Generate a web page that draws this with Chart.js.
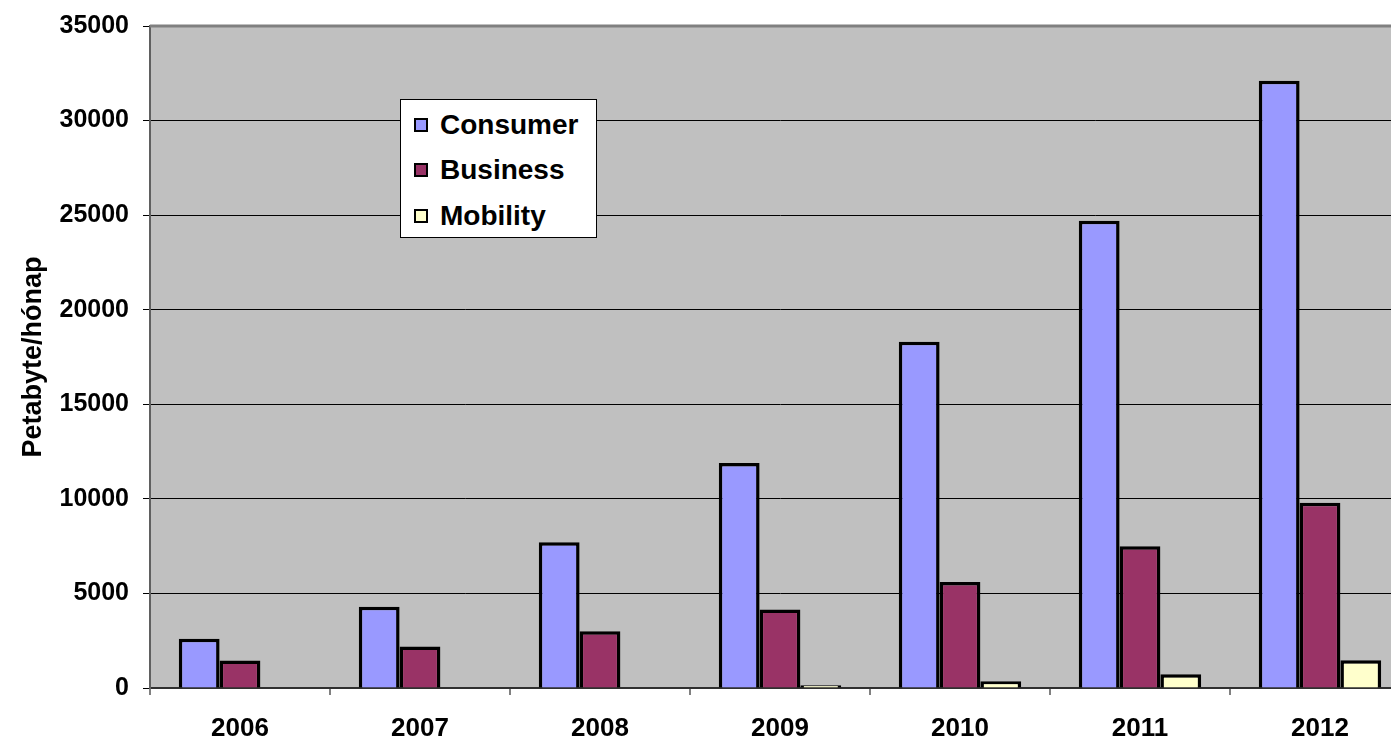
<!DOCTYPE html>
<html lang="hu">
<head>
<meta charset="utf-8">
<title>Petabyte/hónap</title>
<script src="https://cdn.jsdelivr.net/npm/chart.js@4.4.1/dist/chart.umd.min.js"></script>
<style>
    html, body {
        margin: 0;
        padding: 0;
        background: #fff;
        overflow: hidden;
    }
    #wrap {
        position: relative;
        width: 1420px;
        height: 742px;
    }
    #trafficChart {
        position: absolute;
        left: 0;
        top: 0;
    }
    #legend {
        position: absolute;
        left: 400px;
        top: 99px;
        width: 195px;
        height: 137px;
        background: #fff;
        border: 1px solid #000;
        font-family: "Liberation Sans", Arial, sans-serif;
        font-weight: bold;
        font-size: 28px;
        box-sizing: content-box;
    }
    #legend .item {
        position: absolute;
        left: 13px;
        height: 30px;
        line-height: 30px;
        white-space: nowrap;
    }
    #legend .box {
        display: inline-block;
        width: 10px;
        height: 10px;
        border: 2px solid #000;
        margin-right: 12px;
        vertical-align: 2px;
    }
</style>
</head>
<body>
<div id="wrap">
    <canvas id="trafficChart" width="1420" height="742"></canvas>
    <div id="legend"></div>
</div>
<script>
// Adatok
const years = ["2006", "2007", "2008", "2009", "2010", "2011", "2012"];
const consumer = [2600, 4300, 7700, 11900, 18300, 24700, 32100];
const business = [1450, 2200, 3000, 4150, 5600, 7500, 9800];
const mobility = [0, 0, 0, 150, 360, 730, 1470];
const yTicks = [0, 5000, 10000, 15000, 20000, 25000, 30000, 35000];

const FONT = '"Liberation Sans", Arial, sans-serif';

// Diagram háttér és keret
const plotAreaPlugin = {
    id: 'plotArea',
    beforeDraw(chart) {
        const { ctx, chartArea } = chart;
        ctx.save();
        ctx.fillStyle = '#c0c0c0';
        ctx.fillRect(chartArea.left, chartArea.top, chartArea.right - chartArea.left, chartArea.bottom - chartArea.top);
        ctx.restore();
    },
    afterDatasetsDraw(chart) {
        const { ctx, chartArea } = chart;
        ctx.save();
        ctx.strokeStyle = '#808080';
        ctx.lineWidth = 3;
        ctx.beginPath();
        ctx.moveTo(chartArea.left, chartArea.top);
        ctx.lineTo(chartArea.right, chartArea.top);
        ctx.stroke();
        ctx.restore();
    }
};

const trafficData = {
    labels: years,
    datasets: [
        { label: "Consumer", data: consumer, backgroundColor: "#9999ff" },
        { label: "Business", data: business, backgroundColor: "#993366" },
        { label: "Mobility", data: mobility, backgroundColor: "#ffffcc" }
    ].map(ds => Object.assign(ds, {
        borderColor: "#000",
        borderWidth: 3.5,
        borderSkipped: 'bottom',
        categoryPercentage: 0.68,
        barPercentage: 1.0
    }))
};

const chartOptions = {
    responsive: false,
    animation: false,
    layout: {
        padding: { top: 26, right: 10, bottom: 0, left: 0 }
    },
    plugins: {
        legend: { display: false },
        tooltip: { enabled: false }
    },
    scales: {
        x: {
            offset: true,
            grid: {
                offset: true,
                drawOnChartArea: false,
                drawTicks: true,
                tickLength: 7,
                color: '#808080',
                lineWidth: 2
            },
            border: { color: '#303030', width: 2 },
            ticks: {
                color: '#000',
                padding: 18,
                maxRotation: 0,
                font: { family: FONT, size: 26, weight: 'bold' }
            },
            afterFit(scale) {
                scale.height = 54;
                scale.paddingLeft = 0;
                scale.paddingRight = 0;
            }
        },
        y: {
            min: 0,
            max: 35000,
            afterBuildTicks(scale) {
                scale.ticks = yTicks.map(v => ({ value: v }));
            },
            grid: {
                color: '#000',
                lineWidth: 1,
                tickLength: 7
            },
            border: { color: '#606060', width: 2 },
            ticks: {
                color: '#000',
                padding: 14,
                font: { family: FONT, size: 25, weight: 'bold' },
                callback: v => String(v)
            },
            title: {
                display: true,
                text: 'Petabyte/hónap',
                color: '#000',
                padding: { top: 17, bottom: 0 },
                font: { family: FONT, size: 27, weight: 'bold' }
            },
            afterFit(scale) {
                scale.width = 150;
                scale.paddingTop = 0;
                scale.paddingBottom = 0;
            }
        }
    }
};

// Jelmagyarázat (HTML)
function buildLegend(chart) {
    const el = document.getElementById('legend');
    const rowTops = [10, 55, 101];
    chart.data.datasets.forEach((ds, i) => {
        const item = document.createElement('div');
        item.className = 'item';
        item.style.top = rowTops[i] + 'px';
        const box = document.createElement('span');
        box.className = 'box';
        box.style.background = ds.backgroundColor;
        item.appendChild(box);
        item.appendChild(document.createTextNode(ds.label));
        el.appendChild(item);
    });
}

function initChart() {
    const ctx = document.getElementById('trafficChart').getContext('2d');
    const chart = new Chart(ctx, {
        type: 'bar',
        data: trafficData,
        options: chartOptions,
        plugins: [plotAreaPlugin]
    });
    buildLegend(chart);
    return chart;
}

document.addEventListener('DOMContentLoaded', initChart);
</script>
</body>
</html>
